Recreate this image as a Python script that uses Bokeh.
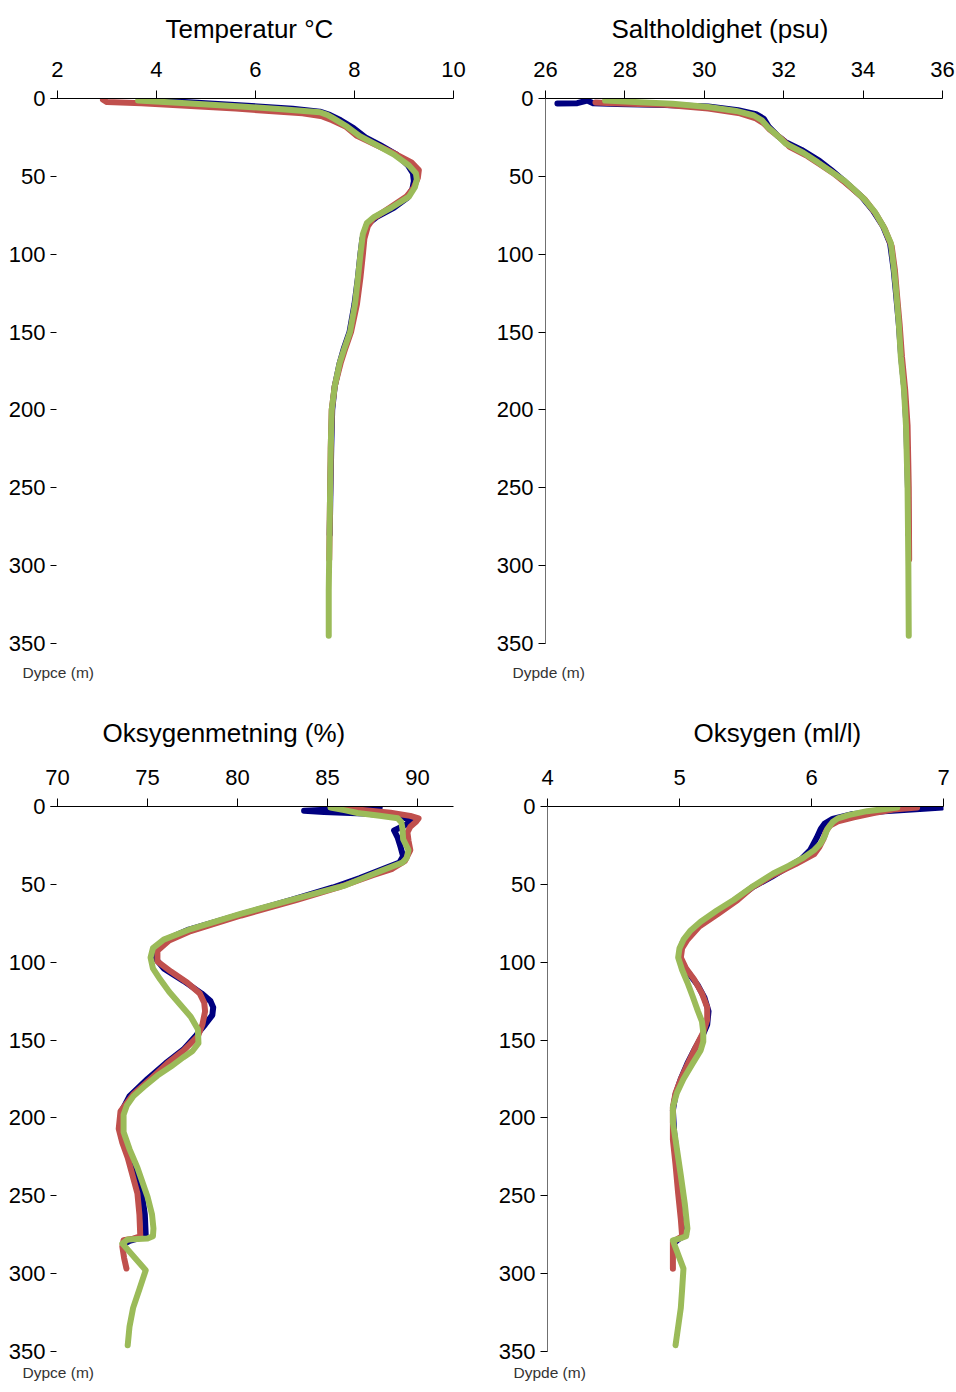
from bokeh.plotting import figure
from bokeh.models import Range1d, FixedTicker, Title
from bokeh.layouts import column, row
from bokeh.embed import file_html
from bokeh.resources import INLINE

# ---------------- data ----------------
depth_ticks = [0, 50, 100, 150, 200, 250, 300, 350]

# Temperatur (deg C)
temp_ticks = [2, 4, 6, 8, 10]
temp_blue_d = [0.5, 2, 4.5, 6.5, 8.5, 10.5, 14, 19, 25, 30, 36, 43, 48, 53, 58, 64, 70, 76, 81, 90, 100, 115, 132, 150, 160, 170, 185, 200, 225, 260, 280]
temp_blue = [3.7, 4.4, 5.75, 6.75, 7.3, 7.5, 7.72, 7.98, 8.22, 8.52, 8.85, 9.08, 9.18, 9.2, 9.17, 9.06, 8.8, 8.45, 8.25, 8.16, 8.12, 8.07, 8.0, 7.9, 7.79, 7.7, 7.6, 7.55, 7.53, 7.51, 7.5]
temp_red_d = [0.8, 2.3, 3.0, 6.5, 9.5, 11.5, 14, 18, 24, 30, 36, 41, 46, 51, 57, 63, 70, 77, 82, 90, 100, 115, 132, 150, 160, 170, 185, 200, 225, 270, 296]
temp_red = [2.92, 3.0, 3.7, 5.6, 6.95, 7.35, 7.55, 7.82, 8.05, 8.45, 8.85, 9.15, 9.3, 9.28, 9.2, 9.05, 8.72, 8.38, 8.27, 8.2, 8.17, 8.12, 8.05, 7.93, 7.82, 7.72, 7.6, 7.54, 7.52, 7.5, 7.49]
temp_green_d = [1.3, 3.0, 5.1, 7.0, 8.8, 10.5, 12.5, 18, 24, 30, 36, 43, 48, 52, 57, 63, 70, 76, 80, 87, 100, 115, 132, 150, 160, 170, 185, 200, 225, 270, 316, 345]
temp_green = [3.63, 4.6, 5.7, 6.6, 7.3, 7.45, 7.56, 7.85, 8.1, 8.45, 8.8, 9.1, 9.24, 9.26, 9.22, 9.1, 8.75, 8.4, 8.25, 8.17, 8.12, 8.07, 8.01, 7.91, 7.8, 7.7, 7.6, 7.54, 7.52, 7.5, 7.48, 7.48]

# Saltholdighet (psu)
salt_ticks = [26, 28, 30, 32, 34, 36]
salt_blue_d = [3.2, 3.0, 1.3, 3.0, 3.5, 4.2, 5.2, 7.5, 10, 13, 18, 24, 28, 33, 40, 46, 52, 57, 63, 72, 82, 93, 110, 123, 145, 166, 187, 210, 250, 280]
salt_blue = [26.3, 26.8, 27.05, 27.2, 27.8, 29.0, 30.1, 30.85, 31.3, 31.5, 31.62, 31.85, 32.05, 32.45, 32.9, 33.2, 33.48, 33.7, 33.96, 34.25, 34.5, 34.68, 34.77, 34.82, 34.9, 34.96, 35.04, 35.09, 35.13, 35.14]
salt_red_d = [2.5, 3.0, 4.0, 6.5, 9.5, 12.8, 16, 20, 26, 31, 37, 42, 48, 53, 59, 65, 74, 84, 95, 110, 125, 145, 166, 187, 210, 250, 296]
salt_red = [27.26, 27.7, 29.0, 30.1, 30.9, 31.3, 31.5, 31.65, 31.95, 32.15, 32.6, 32.9, 33.25, 33.5, 33.78, 34.05, 34.32, 34.55, 34.72, 34.8, 34.85, 34.92, 34.98, 35.06, 35.12, 35.15, 35.16]
salt_green_d = [1.3, 2.5, 3.4, 5.5, 8, 10.9, 14, 18.4, 24, 29, 35, 41, 47, 52.6, 58, 64.4, 73, 82.6, 93, 110, 123, 145, 166, 187, 210, 250, 300, 345]
salt_green = [27.5, 28.5, 29.2, 30.1, 30.8, 31.25, 31.45, 31.6, 31.85, 32.05, 32.5, 32.86, 33.2, 33.52, 33.75, 34.02, 34.3, 34.52, 34.7, 34.78, 34.83, 34.9, 34.95, 35.03, 35.08, 35.12, 35.14, 35.15]

# Oksygenmetning (%)
osat_ticks = [70, 75, 80, 85, 90]
osat_blue_d = [0.5, 1.5, 2.8, 3.6, 4.5, 6.5, 9, 12, 15.4, 20, 26, 32, 36, 41, 46, 52, 60, 70, 79, 86, 92, 97, 104, 112, 120, 125, 129, 134, 140, 147, 156, 165, 175, 186, 196, 207, 220, 235, 250, 262, 275, 277, 279, 280]
osat_blue = [87.9, 86.0, 83.7, 84.8, 87.0, 89.0, 89.8, 89.3, 88.7, 88.9, 89.06, 89.2, 89.0, 87.9, 86.8, 85.3, 83.0, 80.0, 77.3, 75.9, 75.4, 75.4, 75.9, 77.0, 78.0, 78.5, 78.65, 78.6, 78.2, 77.7, 77.0, 76.0, 75.0, 74.0, 73.55, 73.5, 73.85, 74.35, 74.7, 74.85, 74.9, 74.6, 74.0, 73.85]
osat_red_d = [0.6, 2, 4, 6, 7.6, 10, 13, 16.7, 22, 28, 35, 40, 44, 52, 60, 70, 80, 86, 92.6, 99.4, 106, 113, 120, 126, 131.5, 140, 147.5, 156.7, 165, 175, 185, 195.7, 207, 216, 225.5, 248.5, 262, 276, 277.5, 278.5, 282.6, 290, 296.7]
osat_red = [85.56, 86.8, 88.5, 89.6, 90.06, 89.9, 89.6, 89.44, 89.5, 89.6, 89.3, 88.6, 87.56, 85.6, 83.3, 80.2, 77.4, 76.2, 75.55, 75.55, 76.3, 77.2, 77.9, 78.15, 78.2, 78.05, 77.8, 77.0, 76.1, 75.17, 74.2, 73.5, 73.4, 73.6, 73.9, 74.44, 74.55, 74.6, 74.2, 73.67, 73.6, 73.7, 73.83]
osat_green_d = [0.7, 2.5, 4.2, 6, 7.6, 10, 14.6, 21, 28, 33, 36, 40.8, 45, 51, 59, 69, 78.7, 85.5, 91, 97, 104, 111, 119, 127, 135, 143, 152, 157, 161, 167, 172.8, 180, 186, 192, 198, 209, 220, 232, 250.6, 262, 271, 276, 277.5, 278, 280.7, 297.8, 310, 322, 334, 346]
osat_green = [85.17, 86.0, 86.67, 87.9, 88.9, 89.1, 89.17, 89.2, 89.5, 89.4, 89.17, 88.1, 87.2, 85.9, 83.3, 80.17, 77.4, 75.9, 75.3, 75.17, 75.3, 75.7, 76.2, 76.8, 77.4, 77.8, 77.83, 77.5, 77.0, 76.3, 75.55, 74.8, 74.22, 73.85, 73.67, 73.67, 74.0, 74.44, 75.0, 75.25, 75.33, 75.3, 75.0, 73.9, 73.6, 74.9, 74.55, 74.2, 74.0, 73.9]

# Oksygen (ml/l)
oxy_ticks = [4, 5, 6, 7]
oxy_blue_d = [0.6, 1.5, 3, 5, 8, 11, 14.5, 20, 28, 34, 40, 45, 52, 60, 68, 75, 82, 88, 95, 100, 107, 115, 123, 131.5, 140, 146, 155, 165, 175, 185, 195, 210, 230, 250, 265, 275, 278, 279.5]
oxy_blue = [6.99, 6.85, 6.55, 6.3, 6.16, 6.1, 6.07, 6.04, 5.99, 5.92, 5.8, 5.7, 5.55, 5.42, 5.28, 5.16, 5.07, 5.02, 5.0, 5.01, 5.07, 5.14, 5.19, 5.22, 5.21, 5.18, 5.12, 5.06, 5.01, 4.97, 4.95, 4.96, 4.99, 5.02, 5.04, 5.05, 4.99, 4.97]
oxy_red_d = [0.6, 2, 4.2, 7, 9.5, 12.2, 16, 21, 26, 30.6, 37, 44, 52, 60, 69, 77, 85.5, 91, 97, 104, 111, 120, 129, 137, 145, 155, 165.7, 175, 184, 193, 214, 230, 248.5, 265, 276, 278, 279.4, 288, 296.8]
oxy_red = [6.80, 6.62, 6.47, 6.32, 6.2, 6.14, 6.11, 6.09, 6.06, 6.02, 5.88, 5.71, 5.55, 5.44, 5.29, 5.15, 5.06, 5.02, 5.01, 5.05, 5.11, 5.17, 5.21, 5.21, 5.18, 5.12, 5.06, 5.01, 4.97, 4.95, 4.95, 4.97, 4.99, 5.01, 5.02, 4.98, 4.95, 4.95, 4.95]
oxy_green_d = [0.6, 3, 5.5, 7.6, 10, 14.5, 19, 23.7, 28, 32.8, 38, 43, 51, 60, 67, 74, 80, 85.5, 91, 97, 105, 113, 122, 131.5, 138, 145, 151, 156.7, 165, 175, 184, 193, 203, 214, 237, 255, 271, 276, 277.5, 278.7, 290, 296.8, 310, 322, 334, 346]
oxy_green = [6.65, 6.42, 6.28, 6.20, 6.16, 6.12, 6.1, 6.07, 6.02, 5.94, 5.83, 5.71, 5.56, 5.41, 5.28, 5.16, 5.08, 5.03, 5.0, 4.99, 5.02, 5.06, 5.1, 5.14, 5.17, 5.18, 5.18, 5.16, 5.1, 5.03, 4.98, 4.95, 4.95, 4.97, 5.01, 5.04, 5.06, 5.05, 5.0, 4.95, 5.0, 5.03, 5.02, 5.01, 4.99, 4.97]

FONT = "Liberation Sans"
NAVY = "#000080"
RED = "#c0504d"
GREEN = "#9bbb59"


def make_panel(title, xr, xticks, series, width, height, bl, br, bt, bb,
               ylabel, ylab_dx, boxed, title_left, title_standoff, ylab_standoff):
    p = figure(width=width, height=height,
               x_range=Range1d(xr[0], xr[1]), y_range=Range1d(350, 0),
               x_axis_location="above", toolbar_location=None,
               output_backend="svg",
               min_border_left=bl, min_border_right=br,
               min_border_top=bt, min_border_bottom=bb)
    p.outline_line_color = None
    p.grid.visible = False
    p.background_fill_color = "white"
    p.border_fill_color = "white"

    p.title.text = title
    p.title.align = "left"
    p.title.vertical_align = "top"
    p.title.offset = title_left
    p.title.text_font = FONT
    p.title.text_font_size = "26px"
    p.title.text_font_style = "normal"
    p.title.text_color = "black"
    p.title.standoff = title_standoff

    xa = p.xaxis[0]
    xa.ticker = FixedTicker(ticks=xticks)
    xa.major_tick_out = 8
    xa.major_tick_in = 0
    xa.minor_tick_line_color = None
    xa.axis_line_color = "black"
    xa.major_tick_line_color = "black"
    xa.major_label_standoff = 14
    xa.major_label_text_font = FONT
    xa.major_label_text_font_size = "22px"
    xa.major_label_text_color = "black"

    ya = p.yaxis[0]
    ya.ticker = FixedTicker(ticks=depth_ticks)
    ya.minor_tick_line_color = None
    ya.major_label_text_font = FONT
    ya.major_label_text_font_size = "22px"
    ya.major_label_text_color = "black"
    ya.major_tick_line_color = "black"
    if boxed:
        ya.axis_line_color = "#707070"
        ya.major_tick_out = 7
        ya.major_tick_in = 0
        ya.major_label_standoff = 5
    else:
        ya.axis_line_color = None
        ya.major_tick_in = 6
        ya.major_tick_out = 0
        ya.major_label_standoff = 5

    for xs, ds, col in series:
        p.line(xs, ds, line_color=col, line_width=6,
               line_join="round", line_cap="round")

    p.add_layout(Title(text=ylabel, align="left", offset=-ylab_dx,
                       text_font=FONT, text_font_size="15.5px",
                       text_font_style="normal", text_color="#333333",
                       standoff=ylab_standoff), "below")
    return p


p1 = make_panel("Temperatur °C", (1.86, 10), temp_ticks,
                [(temp_blue, temp_blue_d, NAVY), (temp_red, temp_red_d, RED),
                 (temp_green, temp_green_d, GREEN)],
                480, 700, 50, 27, 98, 57, "Dypce (m)", 28, False, 115, 25, 36)
p2 = make_panel("Saltholdighet (psu)", (26, 36), salt_ticks,
                [(salt_blue, salt_blue_d, NAVY), (salt_red, salt_red_d, RED),
                 (salt_green, salt_green_d, GREEN)],
                476, 700, 65, 14, 98, 57, "Dypde (m)", 33, True, 66, 25, 36)
p3 = make_panel("Oksygenmetning (%)", (69.61, 92), osat_ticks,
                [(osat_blue, osat_blue_d, NAVY), (osat_red, osat_red_d, RED),
                 (osat_green, osat_green_d, GREEN)],
                480, 692, 50, 27, 106, 41, "Dypce (m)", 28, False, 52, 33, 21)
p4 = make_panel("Oksygen (ml/l)", (4, 7), oxy_ticks,
                [(oxy_blue, oxy_blue_d, NAVY), (oxy_red, oxy_red_d, RED),
                 (oxy_green, oxy_green_d, GREEN)],
                476, 692, 67, 13, 106, 41, "Dypde (m)", 34, True, 146, 33, 21)

layout = column(row(p1, p2), row(p3, p4))
open("out.html", "w").write(file_html(layout, INLINE))
